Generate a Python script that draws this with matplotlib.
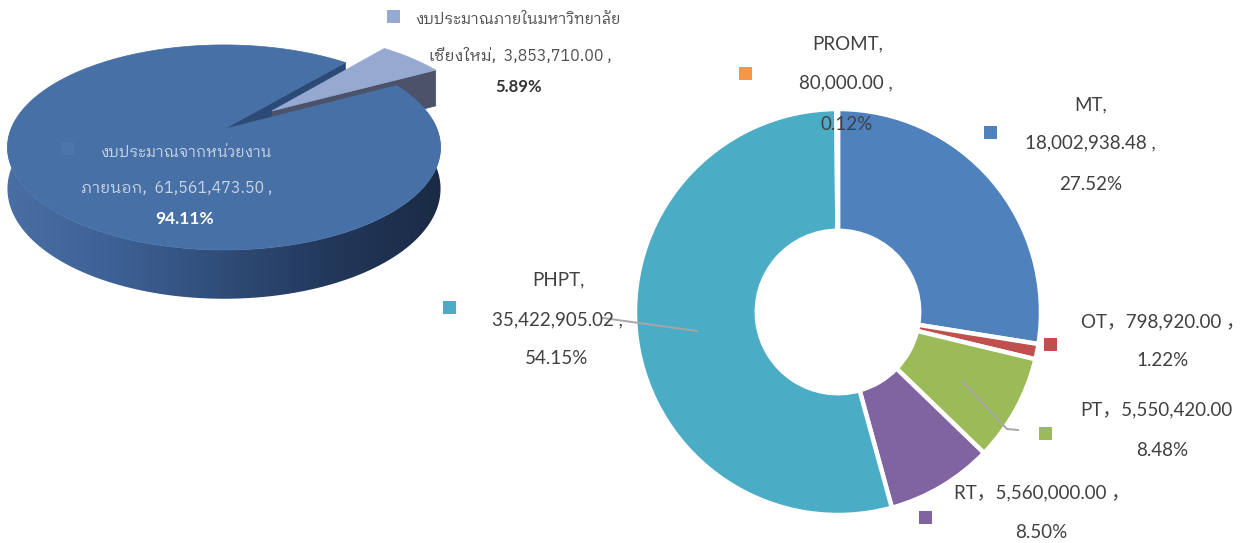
import numpy as np
import matplotlib
matplotlib.use("Agg")
import matplotlib.pyplot as plt
import matplotlib.font_manager as fm
from matplotlib.ft2font import FT2Font
from matplotlib.patches import Polygon, Rectangle
from matplotlib.colors import LinearSegmentedColormap

# ---------------- data ----------------
budget_labels_l1 = ["งบประมาณภายในมหาวิทยาลัย", "งบประมาณจากหน่วยงาน"]
budget_labels_l2 = ["เชียงใหม่", "ภายนอก"]
budget_values = [3853710.00, 61561473.50]
budget_pcts = ["5.89%", "94.11%"]
budget_colors = ["#95A9D1", "#4670A6"]

dept_names = ["MT", "OT", "PT", "RT", "PHPT", "PROMT"]
dept_values = [18002938.48, 798920.00, 5550420.00, 5560000.00, 35422905.02, 80000.00]
dept_pcts = ["27.52%", "1.22%", "8.48%", "8.50%", "54.15%", "0.12%"]
dept_colors = ["#4F81BD", "#C0504D", "#9BBB59", "#8064A2", "#4BACC6", "#F79646"]


def find_thai_font():
    found = []
    for f in fm.fontManager.ttflist:
        try:
            cm = FT2Font(f.fname).get_charmap()
        except Exception:
            continue
        if 0x0E07 in cm and 0x0E1A in cm and 0x0E13 in cm:
            found.append(f.name)
    if not found:
        return "DejaVu Sans"
    for key in ("Looped", "Thai", "Tahoma"):
        for n in found:
            if key in n:
                return n
    return found[0]


THAI = find_thai_font()
LAT = ["Lato", "Noto Sans CJK SC", "DejaVu Sans"]

W, Hh = 1252, 543
fig = plt.figure(figsize=(W / 100, Hh / 100), dpi=100)
fig.patch.set_facecolor("white")

# ---------------- donut (right) ----------------
dcx, dcy, dr = 838, 312, 203
axd = fig.add_axes([(dcx - dr) / W, (Hh - dcy - dr) / Hh, 2 * dr / W, 2 * dr / Hh])
axd.pie(dept_values, colors=dept_colors, startangle=90, counterclock=False,
        radius=1.0, wedgeprops=dict(width=0.6, edgecolor="white", linewidth=3.2))
axd.set_xlim(-1, 1)
axd.set_ylim(-1, 1)
axd.set_aspect("equal")
axd.axis("off")

# ---------------- overlay (pixel coords) ----------------
ax = fig.add_axes([0, 0, 1, 1], zorder=5)
ax.set_xlim(0, W)
ax.set_ylim(Hh, 0)
ax.axis("off")
ax.patch.set_alpha(0)

# ---------------- 3D pie (left) ----------------
pcx, pcy, A, B, K, H = 224, 129, 213, 99.2, 0.18, 40


def proj(u, v, bottom=False):
    d = 1 + K * v
    x = pcx + A * u / d
    y = pcy - B * v / d
    if bottom:
        y = y + H / d
    return x, y


total = sum(budget_values)
small_span = 360 * budget_values[0] / total
start = 28.4
small_a0, small_a1 = start, start + small_span
main_a0, main_a1 = small_a1, start + 360

# main slice: front side as one polygon filled with a horizontal gradient
sphis = np.radians(np.linspace(150, 390, 300))
top_pts = [proj(np.cos(p), np.sin(p)) for p in sphis]
bot_pts = [proj(np.cos(p), np.sin(p), True) for p in sphis[::-1]]
side_poly = Polygon(top_pts + bot_pts, closed=True, facecolor="none", edgecolor="none")
ax.add_patch(side_poly)
side_cmap = LinearSegmentedColormap.from_list(
    "side", ["#4A6FA3", "#3D6194", "#2F4C77", "#22375A", "#1A2A44"])
grad = np.linspace(0, 1, 256).reshape(1, -1)
im = ax.imshow(grad, cmap=side_cmap, extent=(5, 445, 320, 120), aspect="auto",
               interpolation="bilinear", zorder=1)
im.set_clip_path(side_poly)

# main radial faces
for ang, col in ((main_a0, "#2B4A76"), (main_a1, "#22395C")):
    a = np.radians(ang)
    poly = [proj(0, 0), proj(np.cos(a), np.sin(a)),
            proj(np.cos(a), np.sin(a), True), proj(0, 0, True)]
    ax.add_patch(Polygon(poly, closed=True, facecolor=col, edgecolor=col,
                         linewidth=0.5, zorder=2))

# small exploded slice
mid = np.radians((small_a0 + small_a1) / 2)
ou, ov = 0.3 * np.cos(mid), 0.3 * np.sin(mid)
a0 = np.radians(small_a0)
face = [proj(ou, ov), proj(ou + np.cos(a0), ov + np.sin(a0)),
        proj(ou + np.cos(a0), ov + np.sin(a0), True), proj(ou, ov, True)]
ax.add_patch(Polygon(face, closed=True, facecolor="#4B526A", edgecolor="#4B526A",
                     linewidth=0.5, zorder=3))
sph = np.radians(np.linspace(small_a0, small_a1, 40))
small_top = [proj(ou, ov)] + [proj(ou + np.cos(p), ov + np.sin(p)) for p in sph]
ax.add_patch(Polygon(small_top, closed=True, facecolor=budget_colors[0],
                     edgecolor=budget_colors[0], linewidth=0.5, zorder=3.5))

# main top face
mph = np.radians(np.linspace(main_a0, main_a1, 400))
main_top = [proj(0, 0)] + [proj(np.cos(p), np.sin(p)) for p in mph]
ax.add_patch(Polygon(main_top, closed=True, facecolor=budget_colors[1],
                     edgecolor=budget_colors[1], linewidth=0.5, zorder=4))

# ---------------- labels: left pie ----------------
def sq(x, y, color, s=13):
    ax.add_patch(Rectangle((x - s / 2, y - s / 2), s, s, facecolor=color,
                           edgecolor="none", zorder=6))


THF = [THAI, "DejaVu Sans"]
sq(393, 16, budget_colors[0])
ax.text(518, 20, budget_labels_l1[0], ha="center", va="center", fontsize=11,
        family=THF, color="#505050", zorder=7)
ax.text(520, 56, f"{budget_labels_l2[0]},  {budget_values[0]:,.2f} ,", ha="center",
        va="center", fontsize=11.5, family=THF, color="#505050", zorder=7)
ax.text(519, 87, budget_pcts[0], ha="center", va="center", fontsize=12,
        family=LAT, weight="bold", color="#333333", zorder=7)

sq(67, 148, "#4B75AC")
ax.text(186, 153, budget_labels_l1[1], ha="center", va="center", fontsize=11,
        family=THF, color="#C9D3E4", zorder=7)
ax.text(177, 188, f"{budget_labels_l2[1]},  {budget_values[1]:,.2f} ,", ha="center",
        va="center", fontsize=11.5, family=THF, color="#C9D3E4", zorder=7)
ax.text(185, 219, budget_pcts[1], ha="center", va="center", fontsize=12.5,
        family=LAT, weight="bold", color="#FFFFFF", zorder=7)

# ---------------- labels: donut ----------------
TXT = "#404040"
FS = 13.5

ax.plot([697, 603], [331, 318], color="#A6A6A6", lw=1.4, zorder=6)
ax.plot([962, 1007, 1018], [381, 429, 430], color="#A6A6A6", lw=1.4, zorder=6)


def lab(x, y, s):
    ax.text(x, y, s, ha="center", va="center", fontsize=FS, family=LAT, color=TXT, zorder=7)


# PROMT
sq(745, 73, dept_colors[5])
lab(848, 44, f"{dept_names[5]},")
lab(846, 83, f"{dept_values[5]:,.2f} ,")
lab(847, 124, dept_pcts[5])
# MT
sq(990, 132, dept_colors[0])
lab(1091, 105, f"{dept_names[0]},")
lab(1090, 143, f"{dept_values[0]:,.2f} ,")
lab(1091, 185, dept_pcts[0])
# OT
sq(1050, 344, dept_colors[1])
lab(1163, 322, f"{dept_names[1]}，{dept_values[1]:,.2f} ，")
lab(1163, 361, dept_pcts[1])
# PT
sq(1045, 433, dept_colors[2])
lab(1156, 410, f"{dept_names[2]}，{dept_values[2]:,.2f}")
lab(1162, 451, dept_pcts[2])
# RT
sq(925, 517, dept_colors[3])
lab(1042, 493, f"{dept_names[3]}，{dept_values[3]:,.2f} ，")
lab(1041, 533, dept_pcts[3])
# PHPT
sq(449, 307, dept_colors[4])
lab(558, 280, f"{dept_names[4]},")
lab(557, 320, f"{dept_values[4]:,.2f} ,")
lab(557, 359, dept_pcts[4])

fig.savefig("out.png", dpi=100, facecolor="white")
